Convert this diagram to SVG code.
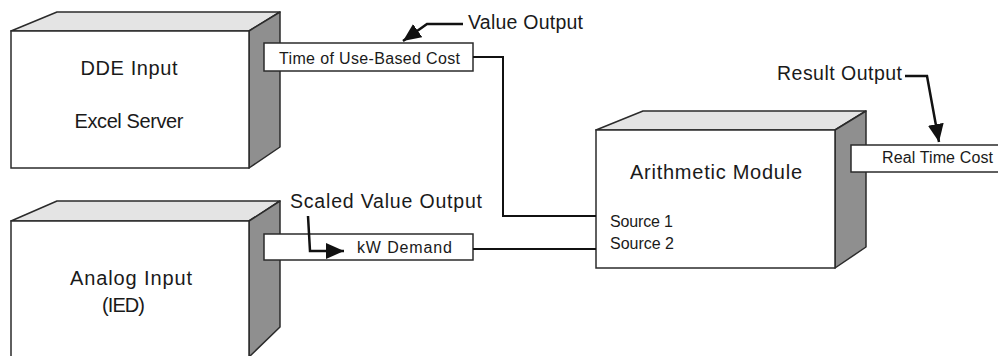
<svg xmlns="http://www.w3.org/2000/svg" width="998" height="356" viewBox="0 0 998 356">
<defs>
<style>
.front{fill:#ffffff;stroke:#2b2b2b;stroke-width:1.5}
.top{fill:#e4e4e4;stroke:#2b2b2b;stroke-width:1.5;stroke-linejoin:round}
.side{fill:#8f8f8f;stroke:#2b2b2b;stroke-width:1.5;stroke-linejoin:round}
.port{fill:#ffffff;stroke:#2b2b2b;stroke-width:1.5}
.wire{fill:none;stroke:#111;stroke-width:2}
.ptr{fill:none;stroke:#111;stroke-width:2.5;marker-end:url(#ah)}
text{font-family:"Liberation Sans",Arial,sans-serif;fill:#1a1a1a}
.big{font-size:20px}
.lbl{font-size:19.5px}
.sm{font-size:16px}
</style>
<marker id="ah" markerUnits="userSpaceOnUse" markerWidth="20" markerHeight="16" viewBox="0 0 20 16" refX="18" refY="8" orient="auto">
<path d="M0,0 L18,8 L0,16 Z" fill="#111"/>
</marker>
</defs>

<g id="dde-input">
<polygon class="top" points="11,31 57,12 280,12 249,31"/>
<polygon class="side" points="249,31 280,12 280,147 249,168"/>
<rect class="front" x="11" y="31" width="238" height="137"/>
<text class="big" x="129" y="75" text-anchor="middle" textLength="97">DDE Input</text>
<text class="big" x="129" y="128" text-anchor="middle" textLength="109">Excel Server</text>
</g>

<g id="analog-input">
<polygon class="top" points="11,221 57,201 280,201 249,221"/>
<polygon class="side" points="249,221 280,201 280,327 249,357"/>
<rect class="front" x="11" y="221" width="238" height="140"/>
<text class="big" x="70" y="285" textLength="122">Analog Input</text>
<text class="big" x="102" y="312" textLength="43">(IED)</text>
</g>

<g id="arithmetic-module">
<polygon class="top" points="596,130 643,111 866,111 835,130"/>
<polygon class="side" points="835,130 866,111 866,247 835,268"/>
<rect class="front" x="596" y="130" width="239" height="138"/>
<text class="big" x="630" y="179" textLength="172">Arithmetic Module</text>
<text class="sm" x="610" y="227" textLength="63">Source 1</text>
<text class="sm" x="610" y="249" textLength="64">Source 2</text>
</g>

<g id="time-of-use-cost">
<rect class="port" x="264" y="43" width="209" height="28"/>
<text class="sm" x="279" y="64" textLength="181">Time of Use-Based Cost</text>
</g>

<g id="kw-demand">
<rect class="port" x="264" y="234" width="209" height="26"/>
<text class="sm" x="357" y="253" textLength="95">kW Demand</text>
</g>

<g id="real-time-cost">
<rect class="port" x="851" y="145" width="160" height="27"/>
<text class="sm" x="882" y="163" textLength="111">Real Time Cost</text>
</g>

<g id="value-output-label">
<text class="lbl" x="468" y="29" textLength="115">Value Output</text>
</g>
<g id="scaled-value-output-label">
<text class="lbl" x="290" y="208" textLength="192">Scaled Value Output</text>
</g>
<g id="result-output-label">
<text class="lbl" x="777" y="80" textLength="125">Result Output</text>
</g>

<g id="connectors">
<path class="wire" d="M473,57 H503 V216 H596"/>
<path class="wire" d="M473,249 H596"/>
<path class="ptr" d="M463,24 H427 L403,41"/>
<path class="ptr" d="M308,216 L310,251 H344"/>
<path class="ptr" d="M905,76 H927 L939,142"/>
</g>
</svg>
